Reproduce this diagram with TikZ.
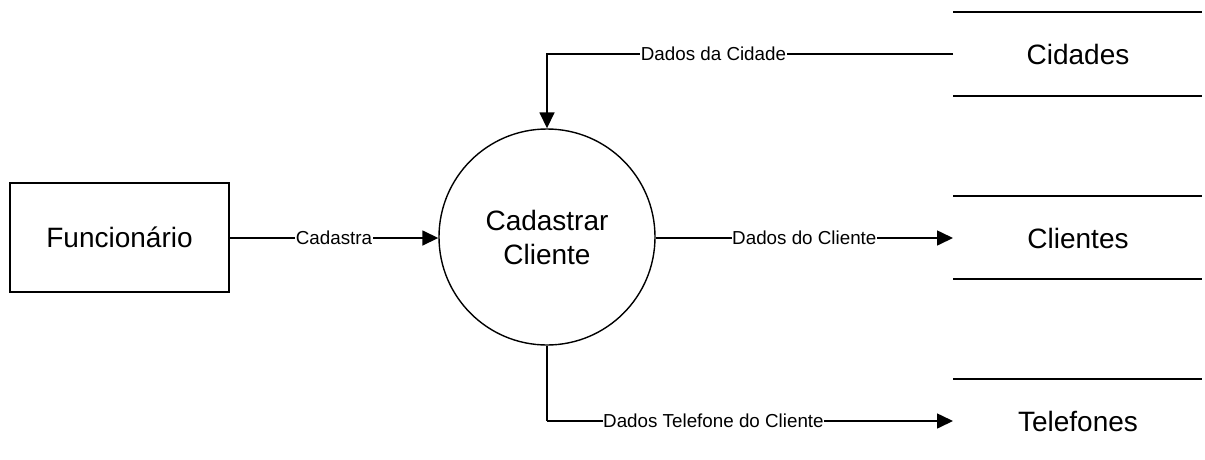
\documentclass[tikz,border=0pt]{standalone}
\usepackage{fontspec}
\setmainfont{Liberation Sans}
\usetikzlibrary{arrows.meta}
\begin{document}
\begin{tikzpicture}[x=1pt,y=-1pt,
  flow/.style={line width=1.6pt,-{Triangle[length=16pt,width=15pt]}},
  lbl/.style={fill=white,inner sep=0.5pt,font=\fontsize{18.8}{22}\selectfont},
  big/.style={font=\fontsize{28}{34}\selectfont},
  storeline/.style={line width=1.4pt}]
\useasboundingbox (0,0) rectangle (1205,459);
% external entity
\node[draw,line width=1.6pt,minimum width=219pt,minimum height=109pt,inner sep=0pt,big] (func) at (119.5,237.5) {Funcionário};
% process
\node[draw,circle,line width=1.4pt,minimum size=216pt,inner sep=0pt,big,align=center] (proc) at (547,237) {Cadastrar\\Cliente};
% data stores
\draw[storeline] (953,12) -- (1202,12);
\draw[storeline] (953,96) -- (1202,96);
\node[big] (cid) at (1078,54) {Cidades};
\coordinate (cidin) at (953,54);
\draw[storeline] (953,196) -- (1202,196);
\draw[storeline] (953,279) -- (1202,279);
\node[big] (cli) at (1078,238) {Clientes};
\coordinate (cliin) at (953,238);
\draw[storeline] (953,379) -- (1202,379);
\node[big] (tel) at (1078,421) {Telefones};
\coordinate (telin) at (953,421);
% flows
\draw[flow] (func.east |- 0,238) -- node[lbl] {Cadastra} (proc.west |- 0,238);
\draw[flow] (cidin) -- node[lbl,pos=0.59] {Dados da Cidade} (547,54) -- (proc.north);
\draw[flow] (proc.east |- 0,238) -- node[lbl] {Dados do Cliente} (cliin);
\draw[line width=1.6pt] (proc.south) -- (547,421);
\draw[flow] (547,421) -- node[lbl,pos=0.41] {Dados Telefone do Cliente} (telin);
\end{tikzpicture}
\end{document}
